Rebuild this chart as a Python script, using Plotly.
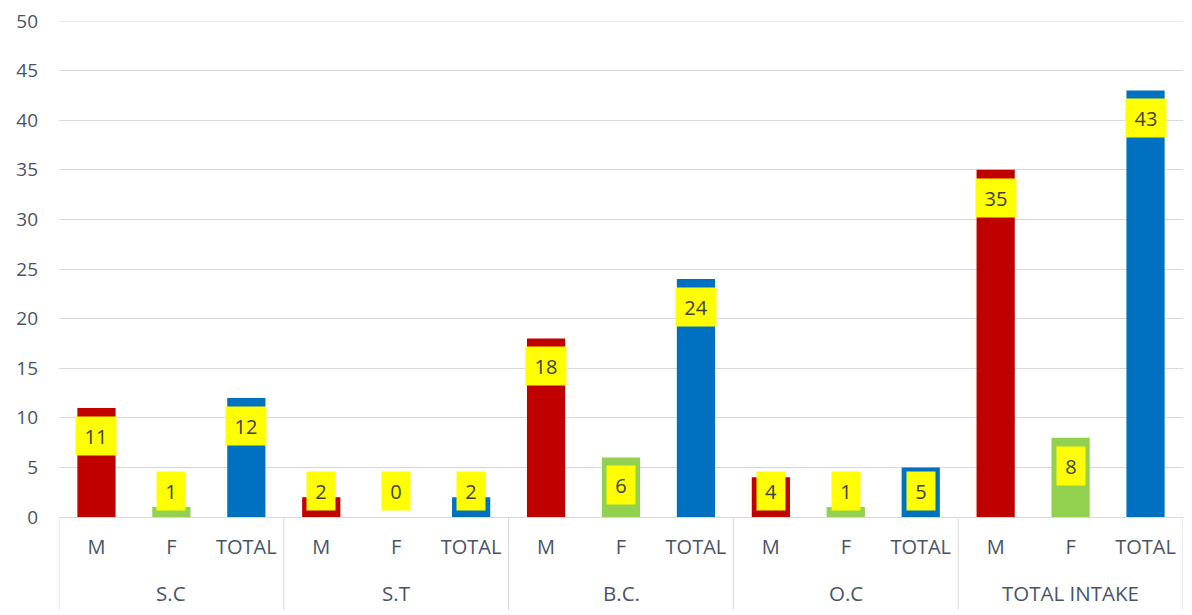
import plotly.graph_objects as go

groups = ["S.C", "S.T", "B.C.", "O.C", "TOTAL INTAKE"]
subs = ["M", "F", "TOTAL"]
values = [11, 1, 12, 2, 0, 2, 18, 6, 24, 4, 1, 5, 35, 8, 43]
sub_colors = {"M": "#C00000", "F": "#92D050", "TOTAL": "#0070C0"}
y_max = 50

x_inner = [s for g in groups for s in subs]
xpos = list(range(len(values)))
colors = [sub_colors[s] for s in x_inner]
txt_color = "#4A5467"

fig = go.Figure()
fig.add_trace(go.Bar(
    x=xpos, y=values,
    marker=dict(color=colors, line=dict(width=0)),
    showlegend=False, hoverinfo="y"))

# yellow label boxes near the top of each bar (kept above the axis for small bars)
for i, v in enumerate(values):
    txt = str(v)
    fig.add_annotation(
        x=i, y=max(v - 0.8, 4.62), xref="x", yref="y",
        text=txt, showarrow=False, yanchor="top",
        bgcolor="#FFFF00", width=4 + 12 * len(txt), height=26, borderpad=6,
        font=dict(size=20, color="#404040", family="Open Sans"))

# group labels and dividers below the axis
n = len(subs)
for k, g in enumerate(groups):
    fig.add_annotation(
        x=k * n + (n - 1) / 2, y=0, xref="x", yref="paper",
        text=g, showarrow=False, yanchor="middle", yshift=-76,
        font=dict(size=20.5, color=txt_color, family="Open Sans"))
for k in range(len(groups) + 1):
    fig.add_shape(type="line", xref="x", yref="paper",
                  x0=k * n - 0.5, x1=k * n - 0.5, y0=0, y1=-93 / 496,
                  line=dict(color="#D9D9D9", width=1))

# top gridline (plotly drops the one at the range edge)
fig.add_shape(type="line", xref="paper", yref="y", x0=0, x1=1, y0=y_max, y1=y_max,
              line=dict(color="#D9D9D9", width=1), layer="below")

# page body has an 8px margin, so the figure is a bit smaller than the window
fig.update_layout(
    width=1184, height=607,
    margin=dict(l=51, r=9, t=13, b=98),
    plot_bgcolor="white", paper_bgcolor="white",
    bargap=0.49,
    font=dict(family="Open Sans", size=19, color=txt_color),
)
fig.update_yaxes(range=[0, y_max], tickvals=list(range(0, y_max + 1, 5)),
                 gridcolor="#D9D9D9", gridwidth=1, ticklabeloverflow="allow",
                 zeroline=False, showline=False, ticks="", ticklabelstandoff=20,
                 automargin=False, tickfont=dict(size=19, color=txt_color))
fig.update_xaxes(range=[-0.5, len(values) - 0.5], tickvals=xpos, ticktext=x_inner,
                 showline=True, linecolor="#D9D9D9", showgrid=False, ticks="",
                 ticklabelstandoff=12, automargin=False,
                 tickfont=dict(size=20, color=txt_color))

fig.write_html("out.html")
